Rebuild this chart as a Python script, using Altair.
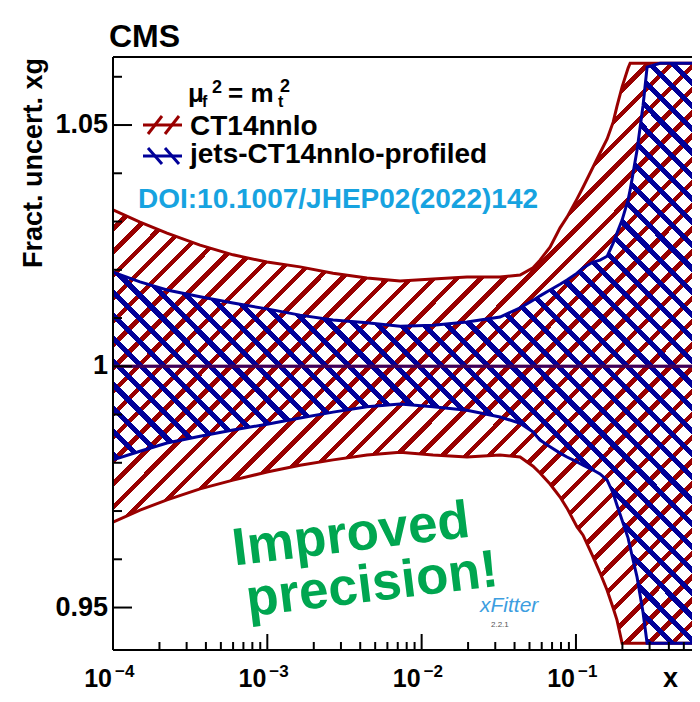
import altair as alt
import pandas as pd

# ---------------- data ----------------
# x grid given as log10(x)
log_x = [-4.000, -3.825, -3.650, -3.436, -3.222, -3.002, -2.788, -2.574, -2.354, -2.140,
         -1.926, -1.706, -1.492, -1.362, -1.278, -1.233, -1.168, -1.103, -1.058, -0.993,
         -0.954, -0.889, -0.844, -0.798, -0.759, -0.734, -0.701, -0.662, -0.649, -0.604,
         -0.565, -0.539, -0.455, -0.248]

ct14_hi = [1.0324, 1.0299, 1.0276, 1.0251, 1.0231, 1.0216, 1.0206, 1.0193, 1.0183, 1.0177,
           1.0181, 1.0185, 1.0185, 1.0189, 1.0204, 1.0220, 1.0247, 1.0287, 1.0309, 1.0347,
           1.0371, 1.0413, 1.0442, 1.0471, 1.0506, 1.0539, 1.0579, 1.0618, 1.0628, 1.0628,
           1.0628, 1.0628, 1.0628, 1.0628]
ct14_lo = [0.9677, 0.9702, 0.9723, 0.9746, 0.9764, 0.9781, 0.9795, 0.9806, 0.9816, 0.9822,
           0.9816, 0.9812, 0.9816, 0.9812, 0.9793, 0.9779, 0.9756, 0.9729, 0.9706, 0.9667,
           0.9650, 0.9605, 0.9572, 0.9536, 0.9499, 0.9474, 0.9426, 0.9426, 0.9426, 0.9426,
           0.9426, 0.9426, 0.9426, 0.9426]
jets_hi = [1.0195, 1.0175, 1.0158, 1.0144, 1.0131, 1.0119, 1.0106, 1.0096, 1.0090, 1.0083,
           1.0085, 1.0092, 1.0102, 1.0121, 1.0137, 1.0146, 1.0158, 1.0170, 1.0179, 1.0193,
           1.0204, 1.0216, 1.0220, 1.0228, 1.0255, 1.0276, 1.0303, 1.0345, 1.0365, 1.0448,
           1.0541, 1.0620, 1.0628, 1.0628]
jets_lo = [0.9806, 0.9824, 0.9841, 0.9855, 0.9868, 0.9880, 0.9893, 0.9905, 0.9916, 0.9922,
           0.9916, 0.9909, 0.9895, 0.9882, 0.9864, 0.9847, 0.9833, 0.9820, 0.9812, 0.9802,
           0.9795, 0.9785, 0.9777, 0.9764, 0.9737, 0.9712, 0.9681, 0.9644, 0.9625, 0.9563,
           0.9489, 0.9426, 0.9426, 0.9426]

x_domain = [1e-4, 10 ** -0.248]
y_domain = [0.9412, 1.0641]

y_major = [0.95, 1.0, 1.05]
y_major_labels = ["0.95", "1", "1.05"]
y_minor = [0.96, 0.97, 0.98, 0.99, 1.01, 1.02, 1.03, 1.04, 1.06]
x_major = [1e-4, 1e-3, 1e-2, 1e-1]
x_major_exp = ["\u22124", "\u22123", "\u22122", "\u22121"]
x_minor = [m * 10.0 ** k for k in (-4, -3, -2, -1) for m in range(2, 10) if m * 10.0 ** k <= x_domain[1]]

series_names = ["CT14nnlo", "jets-CT14nnlo-profiled"]

# ---------------- styling ----------------
W, H = 579, 593
RED = "#990000"
BLUE = "#000099"
FONT = "Liberation Sans"
CLEAR = "rgba(255,255,255,0)"

xs = alt.Scale(type="log", domain=x_domain, nice=False)
ys = alt.Scale(domain=y_domain, nice=False, zero=False)


def hatch(color, n, frac, x1, y1, x2, y2):
    stops = []
    for k in range(n):
        a = round(k / n, 5)
        b = round((k + frac) / n, 5)
        c = round((k + 1) / n, 5)
        stops += [alt.GradientStop(color=color, offset=a),
                  alt.GradientStop(color=color, offset=b),
                  alt.GradientStop(color=CLEAR, offset=b),
                  alt.GradientStop(color=CLEAR, offset=c)]
    return alt.LinearGradient(gradient="linear", stops=stops, x1=x1, y1=y1, x2=x2, y2=y2)


xvals = [10 ** v for v in log_x]
band = pd.DataFrame({"x": xvals, "rlo": ct14_lo, "rhi": ct14_hi, "blo": jets_lo, "bhi": jets_hi})

X = alt.X("x:Q", scale=xs, axis=None)

red_area = alt.Chart(band).mark_area(
    fill=hatch(RED, 50, 0.28, 0, 0, 1, 1), opacity=1, clip=True
).encode(x=X, y=alt.Y("rlo:Q", scale=ys, axis=None), y2="rhi:Q")

blue_area = alt.Chart(band).mark_area(
    fill=hatch(BLUE, 50, 0.31, 0, 1, 1, 0), opacity=1, clip=True
).encode(x=X, y=alt.Y("blo:Q", scale=ys, axis=None), y2="bhi:Q")


def edge(col, color):
    return alt.Chart(band).mark_line(color=color, strokeWidth=3, clip=True).encode(
        x=X, y=alt.Y(f"{col}:Q", scale=ys, axis=None))


one = pd.DataFrame({"v": [1.0]})
center_red = alt.Chart(one).mark_rule(color=RED, strokeWidth=3).encode(y=alt.Y("v:Q", scale=ys, axis=None))
center_blue = alt.Chart(one).mark_rule(color=BLUE, strokeWidth=3, opacity=0.6).encode(
    y=alt.Y("v:Q", scale=ys, axis=None))

# frame
frame_left = alt.Chart(one).mark_rule(color="black", strokeWidth=2).encode(
    x=alt.value(0), y=alt.value(0), y2=alt.value(H))
frame_bottom = alt.Chart(one).mark_rule(color="black", strokeWidth=2).encode(
    x=alt.value(0), x2=alt.value(W), y=alt.value(H))
frame_top = alt.Chart(one).mark_rule(color="black", strokeWidth=2).encode(
    x=alt.value(0), x2=alt.value(W), y=alt.value(0))

# ticks
ymaj = pd.DataFrame({"v": y_major, "lab": y_major_labels})
ymin = pd.DataFrame({"v": y_minor})
xmaj = pd.DataFrame({"v": x_major, "e": x_major_exp, "b": ["10"] * len(x_major)})
xmin = pd.DataFrame({"v": x_minor})

ytick_major = alt.Chart(ymaj).mark_rule(color="black", strokeWidth=2).encode(
    y=alt.Y("v:Q", scale=ys, axis=None), x=alt.value(0), x2=alt.value(19))
ytick_minor = alt.Chart(ymin).mark_rule(color="black", strokeWidth=2).encode(
    y=alt.Y("v:Q", scale=ys, axis=None), x=alt.value(0), x2=alt.value(9))
xtick_major = alt.Chart(xmaj).mark_rule(color="black", strokeWidth=2).encode(
    x=alt.X("v:Q", scale=xs, axis=None), y=alt.value(H), y2=alt.value(H - 16))
xtick_minor = alt.Chart(xmin).mark_rule(color="black", strokeWidth=2).encode(
    x=alt.X("v:Q", scale=xs, axis=None), y=alt.value(H), y2=alt.value(H - 8))

ylabels = alt.Chart(ymaj).mark_text(
    align="right", baseline="middle", font=FONT, fontSize=27, fontWeight="bold", color="black"
).encode(y=alt.Y("v:Q", scale=ys, axis=None), x=alt.value(-5), text="lab:N")
xlabels_base = alt.Chart(xmaj).mark_text(
    align="right", baseline="alphabetic", font=FONT, fontSize=25, fontWeight="bold", color="black", dx=-1
).encode(x=alt.X("v:Q", scale=xs, axis=None), y=alt.value(H + 37), text="b:N")
xlabels_exp = alt.Chart(xmaj).mark_text(
    align="left", baseline="alphabetic", font=FONT, fontSize=17, fontWeight="bold", color="black", dx=2
).encode(x=alt.X("v:Q", scale=xs, axis=None), y=alt.value(H + 27), text="e:N")


def label(txt, x, y, size, color="black", weight="bold", align="left", angle=0, style="normal"):
    return alt.Chart(pd.DataFrame({"t": [txt]})).mark_text(
        align=align, baseline="alphabetic", font=FONT, fontSize=size, fontWeight=weight,
        color=color, angle=angle, fontStyle=style
    ).encode(x=alt.value(x), y=alt.value(y), text="t:N")


texts = [
    label("CMS", -4, -10, 32),
    label("Fract. uncert. xg", -71, 1, 27, align="right", angle=270),
    label("x", 550, H + 37, 27),
    label("\u03bc", 75, 45, 26),
    label("f", 89, 50, 16),
    label("2", 99, 36, 18),
    label("= m", 115, 45, 26),
    label("t", 165, 50, 16),
    label("2", 167, 35, 18),
    label(series_names[0], 77, 78, 28),
    label(series_names[1], 77, 106, 28),
    label("DOI:10.1007/JHEP02(2022)142", 25, 151, 28, color="#17a3e0"),
    label("Improved", 240, 494, 53, color="#00a650", align="center", angle=353),
    label("precision!", 261, 544, 53, color="#00a650", align="center", angle=353),
    label("xFitter", 367, 555, 21, color="#3d9ee0", weight="normal", style="italic"),
    label("2.2.1", 378, 570, 8, color="#555555", weight="normal"),
]


def seg(x1, y1, x2, y2, color):
    return alt.Chart(one).mark_rule(color=color, strokeWidth=3).encode(
        x=alt.value(x1), y=alt.value(y1), x2=alt.value(x2), y2=alt.value(y2))


legend_syms = [
    seg(30, 68, 69, 68, RED), seg(35, 77, 49, 59, RED), seg(52, 77, 66, 59, RED),
    seg(30, 99, 69, 99, BLUE), seg(35, 91, 49, 107, BLUE), seg(52, 91, 66, 107, BLUE),
]

chart = alt.layer(
    red_area, edge("rlo", RED), edge("rhi", RED),
    blue_area, edge("blo", BLUE), edge("bhi", BLUE),
    center_red, center_blue,
    frame_left, frame_bottom, frame_top,
    ytick_major, ytick_minor, xtick_major, xtick_minor,
    ylabels, xlabels_base, xlabels_exp,
    *legend_syms, *texts,
).properties(
    width=W, height=H,
    padding={"left": 105, "top": 49, "right": 0, "bottom": 38},
    autosize=alt.AutoSizeParams(type="none"),
).configure_view(stroke=None).configure(background="white")

chart.save("out.html", embed_options={"renderer": "svg", "actions": False})
